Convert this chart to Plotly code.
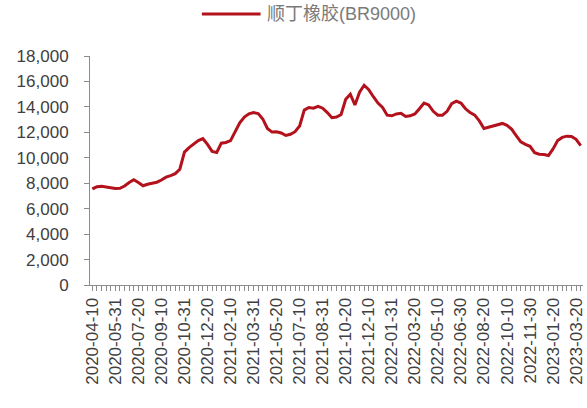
import datetime as dt
import plotly.graph_objects as go

# Dekadal price series for butadiene rubber BR9000 (yuan/ton)
SERIES_NAME = "顺丁橡胶(BR9000)"

br9000 = [
    7550, 7720, 7760, 7700, 7680, 7580, 7600, 7780, 8050, 8270,
    8050, 7800, 7920, 8000, 8080, 8250, 8480, 8600, 8750, 9100,
    10450, 10800, 11050, 11350, 11500, 11050, 10500, 10420, 11150, 11200,
    11350, 12000, 12750, 13200, 13450, 13550, 13480, 13050, 12300, 12020,
    12050, 11950, 11750, 11850, 12050, 12500, 13750, 13950, 13900, 14050,
    13900, 13550, 13150, 13200, 13400, 14600, 15000, 14150, 15150, 15700,
    15350, 14800, 14300, 13950, 13350, 13300, 13450, 13500, 13250, 13300,
    13450, 13850, 14300, 14150, 13650, 13350, 13350, 13650, 14250, 14450,
    14300, 13850, 13550, 13350, 12900, 12300, 12400, 12550, 12650, 12700,
    12550, 12250, 11750, 11250, 11050, 10900, 10400, 10280, 10250, 10180,
    10700, 11350, 11600, 11700, 11680, 11450, 10950,
]

# Observation days: the 10th, 20th and last day of each month,
# April 2020 to March 2023 (no print on 2023-01-31).
START_MONTH = (2020, 4)
END_MONTH = (2023, 3)
SKIPPED = {"2023-01-31"}


def dekad_dates(start, end, skipped):
    out = []
    y, m = start
    while (y, m) <= end:
        nxt = dt.date(y + (m == 12), m % 12 + 1, 1)
        last = (nxt - dt.timedelta(days=1)).day
        for d in (10, 20, last):
            s = f"{y:04d}-{m:02d}-{d:02d}"
            if s not in skipped:
                out.append(s)
        y, m = nxt.year, nxt.month
    return out


dates = dekad_dates(START_MONTH, END_MONTH, SKIPPED)[: len(br9000)]
tick_text = [d if i % 5 == 0 else "" for i, d in enumerate(dates)]

y_ticks = list(range(0, 18001, 2000))

AXIS_GREY = "#8c8c8c"
TEXT_GREY = "#404040"
LINE_RED = "#B3121D"

fig = go.Figure()
fig.add_trace(
    go.Scatter(
        x=dates,
        y=br9000,
        mode="lines",
        name=SERIES_NAME,
        line=dict(color=LINE_RED, width=3),
        showlegend=False,
    )
)

# Legend drawn as a line sample plus label above the plot
fig.add_shape(
    type="line", xref="paper", yref="paper",
    x0=0.227, x1=0.346, y0=1.183, y1=1.183,
    line=dict(color=LINE_RED, width=3),
)
fig.add_annotation(
    xref="paper", yref="paper", x=0.354, y=1.183,
    xanchor="left", yanchor="middle", showarrow=False,
    text=SERIES_NAME,
    font=dict(family="Liberation Sans, Noto Sans CJK SC", size=18, color="#7a7a7a"),
)

fig.update_layout(
    width=587,
    height=408,
    margin=dict(l=90, r=1, t=56, b=123),
    paper_bgcolor="white",
    plot_bgcolor="white",
    font=dict(family="Liberation Sans, Arial, sans-serif", size=17, color=TEXT_GREY),
)

fig.update_xaxes(
    type="category",
    range=[-0.5, len(br9000) - 0.5],
    tickmode="array",
    tickvals=dates,
    ticktext=tick_text,
    tickangle=-90,
    ticks="outside",
    ticklen=5,
    tickcolor=AXIS_GREY,
    showline=True,
    linecolor=AXIS_GREY,
    linewidth=1,
    showgrid=False,
    zeroline=False,
    tickfont=dict(size=17, color=TEXT_GREY),
)

fig.update_yaxes(
    range=[0, 18000],
    tickmode="array",
    tickvals=y_ticks,
    tickformat=",d",
    ticks="outside",
    ticklen=5,
    tickcolor=AXIS_GREY,
    showline=True,
    linecolor=AXIS_GREY,
    linewidth=1,
    showgrid=False,
    zeroline=False,
    ticklabelstandoff=12,
    tickfont=dict(size=17, color=TEXT_GREY),
)

fig.write_html("out.html")
